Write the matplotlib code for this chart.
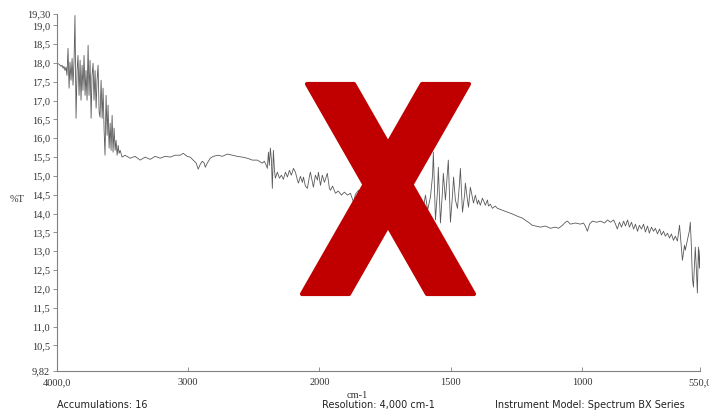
import numpy as np
import matplotlib
matplotlib.use("Agg")
import matplotlib.pyplot as plt
from matplotlib.patches import Polygon

# ---- data ----
wavenumber = [
    4000, 3985, 3969, 3962, 3954, 3947, 3939, 3931, 3924, 3916, 3908, 3901, 3893, 3885,
    3878, 3870, 3863, 3855, 3847, 3840, 3832, 3824, 3817, 3809, 3802, 3794, 3786, 3779,
    3771, 3763, 3756, 3748, 3740, 3733, 3725, 3718, 3710, 3702, 3695, 3687, 3679, 3672,
    3664, 3656, 3649, 3641, 3634, 3626, 3618, 3611, 3603, 3595, 3588, 3580, 3573, 3565,
    3557, 3550, 3542, 3534, 3527, 3519, 3504, 3481,
    3443, 3405, 3366, 3328, 3290, 3252, 3214, 3176, 3137, 3099, 3061, 3038, 3008, 2985,
    2962, 2939, 2924, 2908, 2893, 2878, 2870, 2855, 2832, 2809, 2771, 2740, 2702, 2664,
    2626, 2588, 2550, 2511, 2473, 2435, 2420, 2405, 2397, 2389, 2382, 2374, 2366, 2359,
    2351, 2343, 2336, 2321, 2305, 2290, 2275, 2259, 2244, 2229, 2214, 2198, 2183, 2168,
    2160, 2145, 2130, 2122, 2107, 2092, 2076, 2069, 2053, 2046, 2031, 2015, 2008,
    1996, 1989, 1981, 1970, 1962, 1958, 1950, 1939, 1928, 1916, 1905, 1893, 1882, 1870,
    1863, 1851, 1840, 1829, 1817, 1806, 1794, 1783, 1771, 1760, 1749, 1737, 1729, 1722,
    1714, 1706, 1699, 1691, 1684, 1676, 1665, 1653, 1642, 1630, 1619, 1607, 1596, 1588,
    1577, 1569, 1566, 1558, 1550, 1547, 1539, 1531, 1528, 1520, 1516, 1509, 1501, 1493,
    1489, 1482, 1474, 1467, 1463, 1455, 1447, 1444, 1436, 1432, 1425, 1417, 1413, 1406,
    1398, 1394, 1387, 1379, 1371, 1368, 1360, 1356, 1349, 1341, 1330, 1322, 1303, 1284,
    1265, 1246, 1227, 1204, 1189, 1177, 1158, 1139, 1120, 1101, 1089, 1074, 1063, 1055,
    1044, 1025, 1006, 994, 987, 979, 971, 960, 944, 929, 914, 902, 891, 879,
    872, 865, 857, 849, 841, 834, 826, 819, 811, 803, 796, 788, 781, 773,
    765, 758, 750, 743, 735, 727, 720, 712, 704, 697, 689, 682, 674, 666,
    659, 651, 644, 636, 628, 625, 617, 609, 606, 598, 590, 587, 583, 579,
    575, 571, 568, 564, 560, 556, 552, 550,
]
transmittance = [
    17.99, 17.97, 17.91, 17.94, 17.86, 17.91, 17.80, 17.89, 17.67, 18.39, 17.33, 18.02, 17.54, 18.12,
    17.41, 18.07, 19.26, 16.53, 17.80, 18.20, 17.14, 18.07, 17.01, 17.94, 17.27, 18.20, 17.14, 17.80,
    17.01, 18.47, 17.14, 18.07, 16.53, 17.67, 17.99, 17.01, 17.80, 16.80, 17.54, 17.94, 16.69, 16.56,
    17.54, 16.53, 17.33, 16.21, 15.55, 17.14, 16.08, 16.88, 15.74, 16.40, 15.68, 16.61, 15.63, 16.27,
    15.68, 15.95, 15.55, 15.81, 15.60, 15.68, 15.50, 15.55,
    15.47, 15.52, 15.42, 15.50, 15.44, 15.52, 15.47, 15.52, 15.50, 15.55, 15.55, 15.60, 15.52, 15.50,
    15.42, 15.34, 15.18, 15.31, 15.39, 15.34, 15.23, 15.34, 15.47, 15.52, 15.55, 15.52, 15.58, 15.55,
    15.52, 15.50, 15.47, 15.42, 15.42, 15.34, 15.39, 15.28, 15.20, 15.63, 15.28, 15.74, 15.42, 14.67,
    15.68, 15.15, 14.94, 15.10, 14.94, 15.02, 14.91, 15.10, 14.97, 15.15, 15.02, 15.20, 15.10, 14.89,
    14.81, 14.99, 14.83, 14.97, 14.73, 14.67, 14.99, 15.10, 14.83, 14.70, 15.02, 14.89, 15.10,
    14.75, 15.02, 14.83, 15.07, 14.67, 14.62, 14.73, 14.54, 14.60, 14.49, 14.57, 14.49, 14.54, 14.30,
    14.51, 14.62, 14.46, 14.36, 14.41, 14.22, 14.36, 14.14, 14.28, 14.04, 14.20, 13.88, 14.04, 13.61,
    13.96, 13.43, 13.88, 13.51, 13.99, 13.67, 14.09, 13.83, 14.22, 13.96, 14.36, 14.04, 14.49, 14.09,
    14.44, 15.02, 15.63, 13.83, 14.62, 15.23, 13.75, 14.62, 15.07, 14.36, 14.75, 15.42, 13.77, 14.49,
    14.97, 14.36, 14.14, 14.75, 15.20, 14.04, 14.49, 14.81, 14.36, 14.17, 14.70, 14.41, 14.28, 14.49,
    14.25, 14.36, 14.22, 14.41, 14.28, 14.22, 14.36, 14.20, 14.25, 14.14, 14.20, 14.14, 14.09, 14.04,
    13.99, 13.93, 13.88, 13.77, 13.69, 13.67, 13.64, 13.67, 13.61, 13.64, 13.61, 13.69, 13.77, 13.80,
    13.72, 13.75, 13.72, 13.75, 13.67, 13.53, 13.72, 13.80, 13.77, 13.80, 13.75, 13.83, 13.77, 13.83,
    13.72, 13.59, 13.77, 13.64, 13.80, 13.67, 13.83, 13.64, 13.77, 13.59, 13.72, 13.53, 13.69, 13.59,
    13.72, 13.51, 13.67, 13.48, 13.64, 13.53, 13.61, 13.46, 13.59, 13.43, 13.53, 13.40, 13.48, 13.35,
    13.46, 13.29, 13.40, 13.27, 13.69, 13.43, 12.76, 13.16, 13.03, 13.29, 13.56, 13.77, 13.16, 12.28,
    12.05, 12.63, 13.11, 12.55, 11.89, 13.11, 12.55, 13.03,
]

y_ticks = [9.82, 10.5, 11.0, 11.5, 12.0, 12.5, 13.0, 13.5, 14.0, 14.5, 15.0,
           15.5, 16.0, 16.5, 17.0, 17.5, 18.0, 18.5, 19.0, 19.30]
y_tick_labels = ["9,82", "10,5", "11,0", "11,5", "12,0", "12,5", "13,0", "13,5",
                 "14,0", "14,5", "15,0", "15,5", "16,0", "16,5", "17,0", "17,5",
                 "18,0", "18,5", "19,0", "19,30"]
x_ticks = [4000, 3000, 2000, 1500, 1000, 550]
x_tick_labels = ["4000,0", "3000", "2000", "1500", "1000", "550,0"]

x_label = "cm-1"
y_label = "%T"
footer_texts = ["Accumulations: 16", "Resolution: 4,000 cm-1",
                "Instrument Model: Spectrum BX Series"]


# wavenumber axis: scale doubles below 2000 cm-1
def fwd(x):
    x = np.asarray(x, dtype=float)
    return np.where(x >= 2000, (x - 2000) / 2.0, x - 2000)


def inv(u):
    u = np.asarray(u, dtype=float)
    return np.where(u >= 0, 2 * u + 2000, u + 2000)


W, H = 709, 413
fig = plt.figure(figsize=(W / 100, H / 100), dpi=100)
fig.patch.set_facecolor("white")

ax = fig.add_axes([57 / W, (H - 371) / H, (700 - 57) / W, (371 - 14) / H])
ax.set_xscale("function", functions=(fwd, inv))
ax.plot(wavenumber, transmittance, color="#5a5a5a", lw=0.6)
ax.set_xlim(4000, 550)
ax.set_ylim(9.82, 19.30)

for s in ("top", "right"):
    ax.spines[s].set_visible(False)
for s in ("left", "bottom"):
    ax.spines[s].set_color("#808080")
    ax.spines[s].set_linewidth(0.8)

serif = ["Liberation Serif", "DejaVu Serif"]
ax.set_yticks(y_ticks)
ax.set_yticklabels(y_tick_labels, family=serif, fontsize=7.5, color="#333333")
ax.set_xticks(x_ticks)
ax.set_xticklabels(x_tick_labels, family=serif, fontsize=7.5, color="#333333")
ax.tick_params(axis="y", direction="out", length=3, width=0.6, color="#808080", pad=2)
ax.tick_params(axis="x", direction="in", length=3, width=0.6, color="#808080", pad=5)
ax.minorticks_off()

fig.text(17 / W, 1 - 200 / H, y_label, family=serif, fontsize=7.5, color="#333333",
         ha="center", va="center")
fig.text(357 / W, 1 - 395 / H, x_label, family=serif, fontsize=7.5, color="#333333",
         ha="center", va="center")
for xpx, t in zip([57, 322, 495], footer_texts):
    fig.text(xpx / W, 1 - 405 / H, t, family=["DejaVu Sans"], fontsize=7.0,
             color="#222222", ha="left", va="center")


# big red X overlay (figure pixel coordinates)
def to_fig(pts):
    return [(px / W, 1 - py / H) for px, py in pts]


red = "#C00000"
stroke_a = [(307, 84), (354, 84), (474, 294), (427, 294)]
stroke_b = [(422, 84), (469, 84), (349, 294), (302, 294)]
for pts in (stroke_a, stroke_b):
    poly = Polygon(to_fig(pts), closed=True, transform=fig.transFigure,
                   facecolor=red, edgecolor=red, linewidth=3, joinstyle="round",
                   zorder=5)
    fig.patches.append(poly)

fig.savefig("out.png", dpi=100, facecolor="white")
